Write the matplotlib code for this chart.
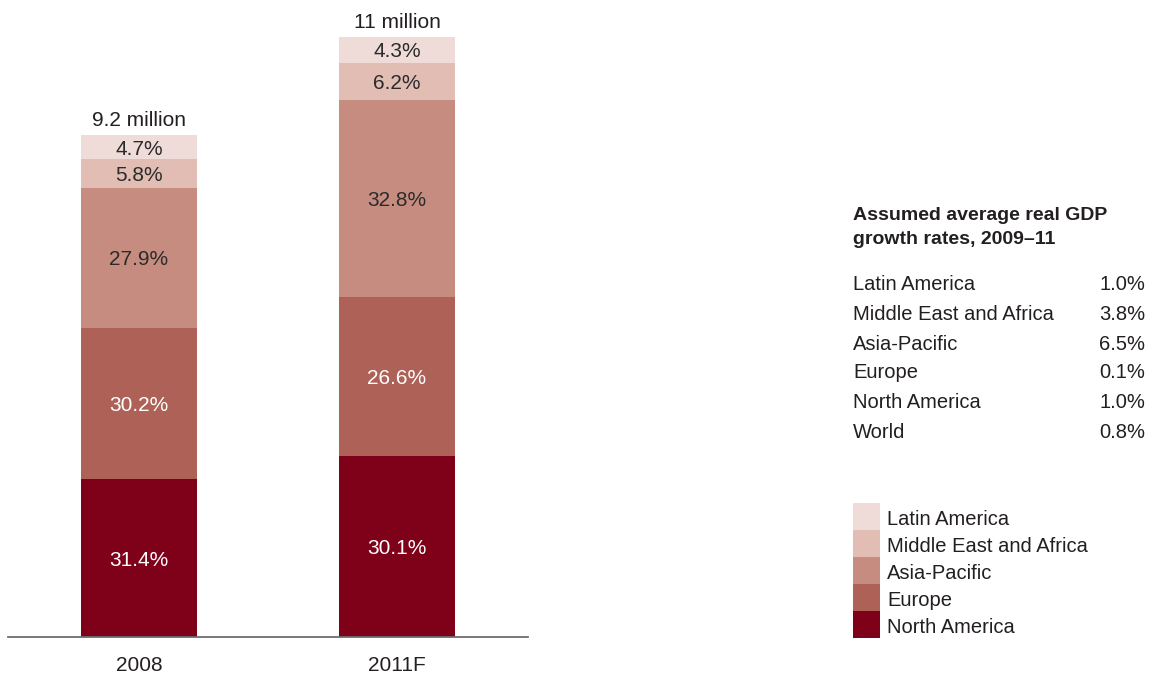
import matplotlib
matplotlib.use("Agg")
import matplotlib.pyplot as plt
from matplotlib.patches import Rectangle
from matplotlib.transforms import ScaledTranslation

plt.rcParams['font.family'] = ['Liberation Sans', 'DejaVu Sans']

# Data
years = ["2008", "2011F"]
totals = [9.2, 11.0]                 # million
total_labels = ["9.2 million", "11 million"]
regions = ["North America", "Europe", "Asia-Pacific", "Middle East and Africa", "Latin America"]
shares = {
    "North America": [31.4, 30.1],
    "Europe": [30.2, 26.6],
    "Asia-Pacific": [27.9, 32.8],
    "Middle East and Africa": [5.8, 6.2],
    "Latin America": [4.7, 4.3],
}
colors = {
    "North America": "#7e0019",
    "Europe": "#ad6157",
    "Asia-Pacific": "#c68c80",
    "Middle East and Africa": "#e1bdb3",
    "Latin America": "#efdcd8",
}
label_colors = {
    "North America": "white",
    "Europe": "white",
    "Asia-Pacific": "#2b2b2b",
    "Middle East and Africa": "#2b2b2b",
    "Latin America": "#2b2b2b",
}
growth_regions = ["Latin America", "Middle East and Africa", "Asia-Pacific",
                  "Europe", "North America", "World"]
growth_rates = ["1.0%", "3.8%", "6.5%", "0.1%", "1.0%", "0.8%"]

TEXT = "#231f20"
W, H = 1163, 681
fig = plt.figure(figsize=(W / 100, H / 100), dpi=100)

# nudge text slightly downward so digits sit optically centred
nudge = ScaledTranslation(0, -2 / 100, fig.dpi_scale_trans)

# Bar axes in pixel-derived position
ax = fig.add_axes([8 / W, (H - 637) / H, 520 / W, 637 / H])
ax.set_xlim(-0.508, 1.508)
ax.set_ylim(0, 11.68)
for s in ["top", "right", "left"]:
    ax.spines[s].set_visible(False)
ax.spines["bottom"].set_color("#6d6d6d")
ax.spines["bottom"].set_linewidth(1.3)
ax.set_yticks([])
ax.set_xticks(range(len(years)))
ax.set_xticklabels(years, fontsize=15, color=TEXT)
ax.tick_params(axis="x", length=0, pad=14)

width = 0.45
for i, (yr, tot) in enumerate(zip(years, totals)):
    bottom = 0.0
    for reg in regions:
        pct = shares[reg][i]
        h = tot * pct / 100.0
        ax.bar(i, h, width=width, bottom=bottom, color=colors[reg], linewidth=0)
        ax.text(i, bottom + h / 2, f"{pct:.1f}%", ha="center", va="center",
                fontsize=15, color=label_colors[reg],
                transform=ax.transData + nudge)
        bottom += h
    ax.text(i, tot + 0.31, total_labels[i], ha="center", va="center",
            fontsize=15, color=TEXT, transform=ax.transData + nudge)

# Growth-rate table
def fx(px):
    return px / W

def fy(py):
    return 1 - py / H

ftr = fig.transFigure + nudge
fig.text(fx(853), fy(213), "Assumed average real GDP", fontsize=14,
         fontweight="bold", color=TEXT, va="center", ha="left", transform=ftr)
fig.text(fx(853), fy(237), "growth rates, 2009\u201311", fontsize=14,
         fontweight="bold", color=TEXT, va="center", ha="left", transform=ftr)
row_y = [283, 312, 342, 371, 400, 430]
for name, rate, y in zip(growth_regions, growth_rates, row_y):
    fig.text(fx(853), fy(y), name, fontsize=14.5, color=TEXT, va="center",
             ha="left", transform=ftr)
    fig.text(fx(1145), fy(y), rate, fontsize=14.5, color=TEXT, va="center",
             ha="right", transform=ftr)

# Legend swatches
leg_order = ["Latin America", "Middle East and Africa", "Asia-Pacific", "Europe", "North America"]
top = 503
step = 27
for k, reg in enumerate(leg_order):
    y0 = top + k * step
    fig.patches.append(Rectangle((fx(853), fy(y0 + step)), 27 / W, step / H,
                                 transform=fig.transFigure, facecolor=colors[reg],
                                 edgecolor="none"))
    fig.text(fx(887), fy(y0 + step / 2 + 1), reg, fontsize=14.5, color=TEXT,
             va="center", ha="left", transform=ftr)

fig.savefig("out.png", dpi=100, facecolor="white")
